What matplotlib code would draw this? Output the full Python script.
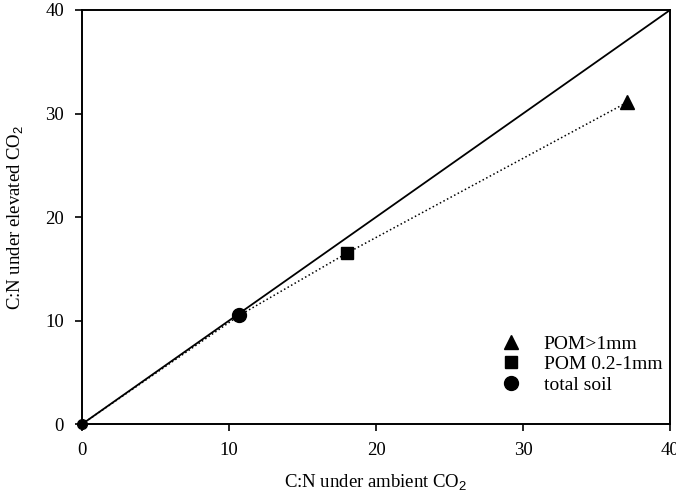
import matplotlib
matplotlib.use("Agg")
import matplotlib.pyplot as plt

plt.rcParams['font.family'] = ['Liberation Serif', 'DejaVu Serif']
plt.rcParams['mathtext.fontset'] = 'custom'
plt.rcParams['mathtext.rm'] = 'Liberation Sans'

# datos
ambiente = [0, 10.7, 18.0, 37.1]
elevado = [0, 10.5, 16.5, 31.1]
etiquetas = ["POM>1mm", "POM 0.2-1mm", "total soil"]
ticks = [0, 10, 20, 30, 40]

fig = plt.figure(figsize=(6.76, 4.99), dpi=100)
ax = fig.add_axes([0.1213, 0.150, 0.870, 0.830])

# linea 1:1
ax.plot([ticks[0], ticks[-1]], [ticks[0], ticks[-1]], color='black', lw=1.3)
# linea punteada
ax.plot(ambiente, elevado, color='black', ls=':', lw=1.1)

ax.plot(ambiente[3], elevado[3], 'k^', ms=10, label=etiquetas[0], ls='none')
ax.plot(ambiente[2], elevado[2], 'ks', ms=9, label=etiquetas[1], ls='none')
ax.plot(ambiente[1], elevado[1], 'ko', ms=10, label=etiquetas[2], ls='none')
ax.plot(ambiente[0], elevado[0], 'ko', ms=7, ls='none', clip_on=False)

ax.set_xlim(0, 40)
ax.set_ylim(0, 40)
ax.set_xticks(ticks)
ax.set_yticks(ticks)
ax.tick_params(labelsize=13.5, length=5, width=1.2, pad=8)
for s in ax.spines.values():
    s.set_linewidth(1.4)

ax.set_xlabel('C:N under ambient CO$_2$', fontsize=13.5, labelpad=10)
ax.set_ylabel('C:N under elevated CO$_2$', fontsize=13.5, labelpad=14)

ax.legend(loc='lower right', bbox_to_anchor=(1.0, 0.055), frameon=False,
          fontsize=14, handletextpad=1.1, borderaxespad=0, labelspacing=0.15,
          handlelength=1.2)

fig.savefig('out.png', dpi=100)
